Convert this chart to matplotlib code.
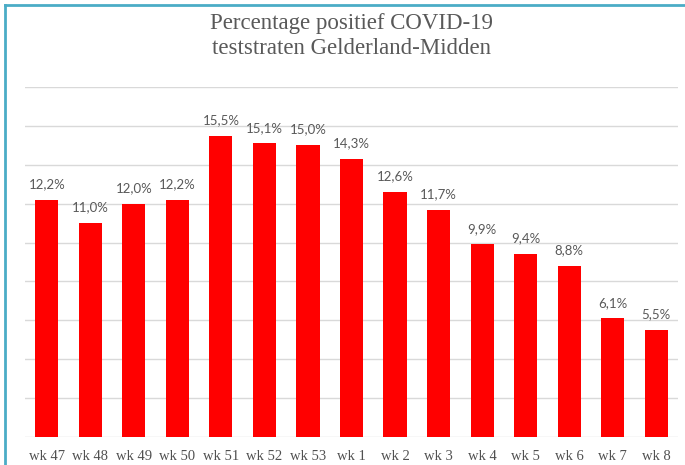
import numpy as np
import matplotlib.pyplot as plt
from matplotlib.lines import Line2D

# Data
weeks = ["wk 47", "wk 48", "wk 49", "wk 50", "wk 51", "wk 52", "wk 53",
         "wk 1", "wk 2", "wk 3", "wk 4", "wk 5", "wk 6", "wk 7", "wk 8"]
percent = [12.2, 11.0, 12.0, 12.2, 15.5, 15.1, 15.0,
           14.3, 12.6, 11.7, 9.9, 9.4, 8.8, 6.1, 5.5]

W, H = 685, 465
fig = plt.figure(figsize=(W / 100, H / 100), dpi=100)
ax = fig.add_axes([25 / W, 1 - 437 / H, (678 - 25) / W, (437 - 87) / H])

x = np.arange(len(weeks))
ax.bar(x, percent, width=0.53, color="#ff0000", zorder=3)

# labels above bars, Dutch decimal comma
for xi, v in zip(x, percent):
    ax.annotate(f"{v:.1f}%".replace(".", ","), (xi, v), xytext=(0, 7),
                textcoords="offset points", ha="center", va="bottom",
                fontsize=9.5, color="#595959", family="Lato")

ax.set_xlim(-0.5, len(weeks) - 0.5)
ax.set_ylim(0, 18)
ax.set_yticks(np.arange(0, 19, 2))
ax.yaxis.grid(True, color="#d9d9d9", linewidth=1, zorder=0)
ax.tick_params(axis="y", length=0, labelleft=False)
ax.set_xticks(x)
ax.set_xticklabels(weeks, family="Liberation Serif", fontsize=10.5, color="#505050")
ax.tick_params(axis="x", length=0, pad=9)
for s in ax.spines.values():
    s.set_visible(False)

fig.text(351 / W, 1 - 36 / H, "Percentage positief COVID-19\nteststraten Gelderland-Midden",
         ha="center", va="center", fontsize=16.5, color="#595959",
         family="Liberation Serif", linespacing=1.2)

# border of the chart frame (left and top visible)
fig.add_artist(Line2D([5 / W, 5 / W], [0, 1 - 5 / H], transform=fig.transFigure,
                      color="#4bacc6", linewidth=2))
fig.add_artist(Line2D([5 / W, 1], [1 - 5 / H, 1 - 5 / H], transform=fig.transFigure,
                      color="#4bacc6", linewidth=2))

fig.savefig("out.png", dpi=100)
